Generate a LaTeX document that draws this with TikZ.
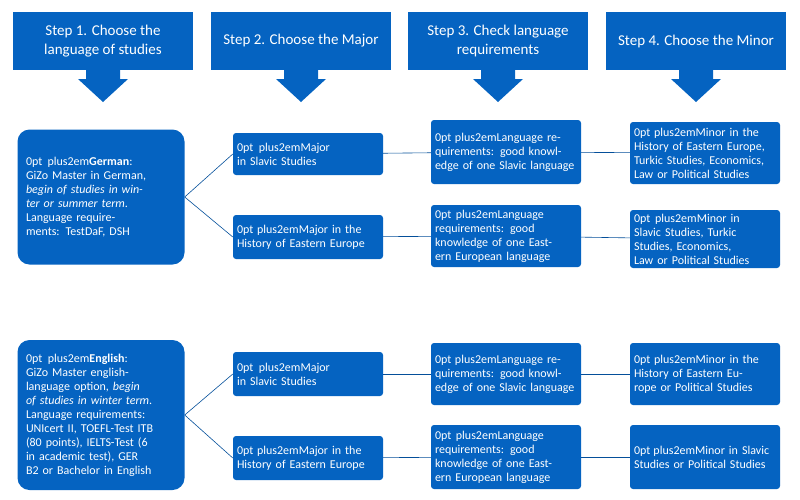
\documentclass[tikz,border=0pt]{standalone}
\usepackage{fontspec}
\setmainfont{Carlito}
\usetikzlibrary{positioning}
\definecolor{boxblue}{RGB}{5,99,193}
\begin{document}
\begin{tikzpicture}[x=1pt,y=-1pt]

% page size
\useasboundingbox (0,0) rectangle (800,499);
% node style definition
\tikzset{
	header/.style = {fill=boxblue, text=white, minimum width=180pt, minimum height=58pt,
		align=center, font=\fontsize{15}{19}\selectfont, inner sep=2pt},
	lang/.style = {fill=boxblue, text=white, rounded corners=12pt, text width=150pt,
		minimum width=167pt, align=center, inner sep=2pt,
		font=\fontsize{12}{14}\selectfont\hyphenpenalty=10000},
	block/.style = {fill=boxblue, text=white, rounded corners=3pt, text width=142pt,
		minimum width=150pt, align=center, inner sep=2pt,
		font=\fontsize{12}{14}\selectfont\hyphenpenalty=10000},
	link/.style = {draw=boxblue!80!black, line width=0.6pt}
}

% header arrows
\foreach \cx/\txt [count=\i] in {103/{Step 1. Choose the\\language of studies},
		301/{Step 2. Choose the Major},
		498/{Step 3. Check language\\requirements},
		696/{Step 4. Choose the Minor}} {
	\node[header] (s\i) at (\cx,41) {\txt};
	\fill[boxblue] (\cx-17,70) -- (\cx+17,70) -- (\cx+17,79) -- (\cx+25,79)
		-- (\cx,102) -- (\cx-25,79) -- (\cx-17,79) -- cycle;
}

% German block
\node[lang, minimum height=135pt] (g) at (101,197)
	{\textbf{German}: GiZo Master in German, \textit{begin of studies in winter or summer term}.\\
	Language requirements: TestDaF, DSH};
\node[block, minimum height=42pt] (g1) at (308,154) {Major in Slavic Studies};
\node[block, minimum height=44pt] (g2) at (308,237) {Major in the History of Eastern Europe};
\node[block, minimum height=64pt] (g3) at (506,152) {Language requirements: good knowledge of one Slavic language};
\node[block, minimum height=62pt] (g4) at (506,236) {Language requirements: good knowledge of one Eastern European language};
\node[block, minimum height=62pt] (g5) at (705,153) {Minor in the History of Eastern Europe, Turkic Studies, Economics, Law or Political Studies};
\node[block, minimum height=58pt] (g6) at (705,239) {Minor in Slavic Studies, Turkic Studies, Economics, Law or Political Studies};

% English block
\node[lang, minimum height=150pt] (e) at (101,415)
	{\textbf{English}: GiZo Master english-language option, \textit{begin of studies in winter term}.\\
	Language requirements: UNIcert II, TOEFL-Test ITB (80 points), IELTS-Test (6 in academic test), GER B2 or Bachelor in English};
\node[block, minimum height=44pt] (e1) at (308,374) {Major in Slavic Studies};
\node[block, minimum height=44pt] (e2) at (308,458) {Major in the History of Eastern Europe};
\node[block, minimum height=62pt] (e3) at (506,374) {Language requirements: good knowledge of one Slavic language};
\node[block, minimum height=64pt] (e4) at (506,457) {Language requirements: good knowledge of one Eastern European language};
\node[block, minimum height=62pt] (e5) at (705,374) {Minor in the History of Eastern Europe or Political Studies};
\node[block, minimum height=64pt] (e6) at (705,457) {Minor in Slavic Studies or Political Studies};

% connectors
\foreach \p in {g,e} {
	\draw[link] (\p.east) -- (\p1.west);
	\draw[link] (\p.east) -- (\p2.west);
	\draw[link] (\p1) -- (\p3);
	\draw[link] (\p2) -- (\p4);
	\draw[link] (\p3) -- (\p5);
	\draw[link] (\p4) -- (\p6);
}

\end{tikzpicture}
\end{document}
